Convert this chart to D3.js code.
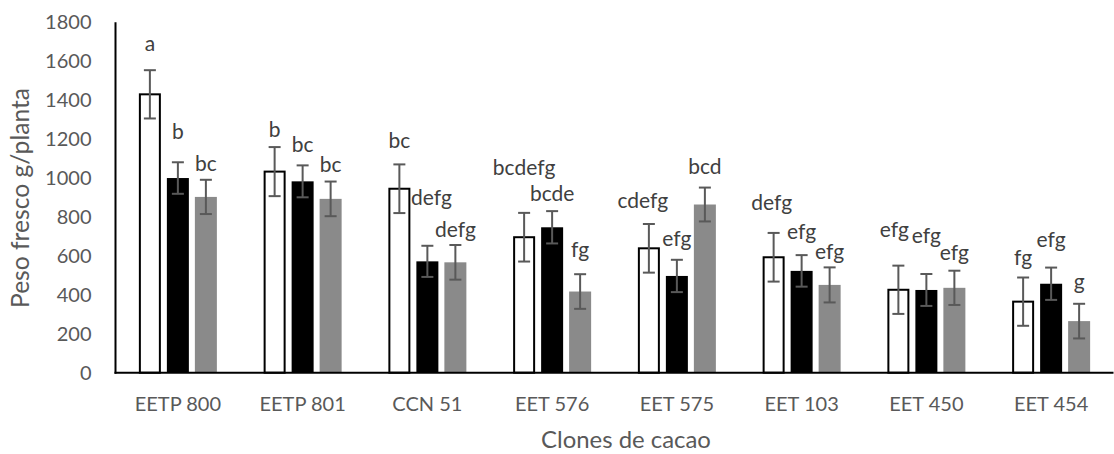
<!DOCTYPE html>
<html><head><meta charset="utf-8">
<script src="https://cdn.jsdelivr.net/npm/d3@7"></script>
<style>
html,body{margin:0;padding:0;background:#fff;}
svg{display:block;font-family:Lato, "Open Sans", sans-serif;}
</style></head>
<body>
<svg id="chart" width="1114" height="454"></svg>
<script>
// ---- data ----
const categories = ["EETP 800","EETP 801","CCN 51","EET 576","EET 575","EET 103","EET 450","EET 454"];
const seriesWhite = [1430, 1033, 945, 696, 639, 593, 426, 365];
const seriesBlack = [1000, 983, 572, 747, 497, 523, 425, 457];
const seriesGray  = [903, 893, 567, 417, 864, 451, 436, 265];
const errWhite = [124, 126, 125, 125, 125, 125, 124, 124];
const errBlack = [81, 82, 80, 83, 83, 81, 82, 83];
const errGray  = [88, 89, 89, 89, 87, 90, 88, 89];
const lettersWhite = ["a","b","bc","bcdefg","cdefg","defg","efg","fg"];
const lettersBlack = ["b","bc","defg","bcde","efg","efg","efg","efg"];
const lettersGray  = ["bc","bc","defg","fg","bcd","efg","efg","g"];
const yTicks = [0,200,400,600,800,1000,1200,1400,1600,1800];
const yTitle = "Peso fresco g/planta";
const xTitle = "Clones de cacao";

// ---- label layout tweaks (pixels above error-bar top, horizontal nudge) ----
const liftWhite = [19, 10, 16, 38, 16, 23, 29, 13];
const liftBlack = [23, 13, 41, 10, 14, 16, 31, 21];
const liftGray  = [9, 10, 8, 17, 14, 8, 11, 15];
const nudgeWhite = [0, 0, 0, 0, -6, -2, -4, 0];
const nudgeBlack = [0, 0, 4, 0, 0, 0, 0, 0];
const nudgeGray  = [0, 0, 0, 0, 0, 0, 0, 0];

const series = [
  {key:"w", values:seriesWhite, err:errWhite, letters:lettersWhite, lift:liftWhite, nudge:nudgeWhite, fill:"#ffffff", stroke:"#000000"},
  {key:"b", values:seriesBlack, err:errBlack, letters:lettersBlack, lift:liftBlack, nudge:nudgeBlack, fill:"#000000", stroke:"none"},
  {key:"g", values:seriesGray,  err:errGray,  letters:lettersGray,  lift:liftGray,  nudge:nudgeGray,  fill:"#8a8a8a", stroke:"none"}
];

const svg = d3.select("#chart");
const mLeft = 115.5, mRight = 1113.5, mTop = 22.3, mBottom = 372.7;

const x0 = d3.scaleBand().domain(categories).range([mLeft, mRight]).padding(0);
const innerW = 78;
const x1 = d3.scaleBand().domain(series.map(s=>s.key))
  .range([(x0.bandwidth()-innerW)/2, (x0.bandwidth()+innerW)/2])
  .paddingInner(6/28).paddingOuter(0);
const y = d3.scaleLinear().domain([0,1800]).range([mBottom, mTop]);

const textGray = "#595959";

// y ticks
const yAxis = d3.axisLeft(y).tickValues(yTicks).tickFormat(d3.format("d")).tickSize(0).tickPadding(24);
const gy = svg.append("g").attr("transform",`translate(${mLeft},0)`).call(yAxis);
gy.select(".domain").remove();
gy.selectAll("text").attr("fill",textGray).style("font-size","20px").style("font-family","Lato");

// x labels
const xAxis = d3.axisBottom(x0).tickSize(0).tickPadding(24);
const gx = svg.append("g").attr("transform",`translate(0,${mBottom})`).call(xAxis);
gx.select(".domain").remove();
gx.selectAll("text").attr("fill",textGray).style("font-size","20px").style("font-family","Lato");

// bars
const groups = svg.append("g").selectAll("g.grp").data(categories).join("g")
  .attr("transform", c=>`translate(${x0(c)},0)`);

series.forEach(s=>{
  groups.append("rect")
    .attr("x", (c,i)=> x1(s.key) + (s.stroke!=="none"?1:0))
    .attr("width", x1.bandwidth() - (s.stroke!=="none"?2:0))
    .attr("y", (c,i)=> y(s.values[i]))
    .attr("height", (c,i)=> y(0)-y(s.values[i]))
    .attr("fill", s.fill)
    .attr("stroke", s.stroke)
    .attr("stroke-width", 2);
});

// error bars
const capW = 12;
series.forEach(s=>{
  const eb = groups.append("g").attr("stroke","#595959").attr("stroke-width",2).attr("fill","none");
  eb.append("line")
    .attr("x1",(c,i)=>x1(s.key)+x1.bandwidth()/2).attr("x2",(c,i)=>x1(s.key)+x1.bandwidth()/2)
    .attr("y1",(c,i)=>y(s.values[i]+s.err[i])).attr("y2",(c,i)=>y(s.values[i]-s.err[i]));
  eb.append("line")
    .attr("x1",(c,i)=>x1(s.key)+x1.bandwidth()/2-capW/2).attr("x2",(c,i)=>x1(s.key)+x1.bandwidth()/2+capW/2)
    .attr("y1",(c,i)=>y(s.values[i]+s.err[i])).attr("y2",(c,i)=>y(s.values[i]+s.err[i]));
  eb.append("line")
    .attr("x1",(c,i)=>x1(s.key)+x1.bandwidth()/2-capW/2).attr("x2",(c,i)=>x1(s.key)+x1.bandwidth()/2+capW/2)
    .attr("y1",(c,i)=>y(s.values[i]-s.err[i])).attr("y2",(c,i)=>y(s.values[i]-s.err[i]));
});

// letters
series.forEach(s=>{
  groups.append("text")
    .attr("x",(c,i)=>x1(s.key)+x1.bandwidth()/2 + s.nudge[i])
    .attr("y",(c,i)=>y(s.values[i]+s.err[i]) - s.lift[i])
    .attr("text-anchor","middle")
    .attr("fill","#404040")
    .style("font-size","21px")
    .text((c,i)=>s.letters[i]);
});

// axis lines
svg.append("line").attr("x1",mLeft).attr("x2",mLeft).attr("y1",mTop).attr("y2",mBottom+1)
  .attr("stroke","#000").attr("stroke-width",2);
svg.append("line").attr("x1",mLeft-1).attr("x2",mRight).attr("y1",mBottom).attr("y2",mBottom)
  .attr("stroke","#000").attr("stroke-width",2);

// titles (font size fitted to the reference text length)
function fit(sel, target, base){
  sel.style("font-size", base+"px");
  const w = sel.node().getComputedTextLength();
  if (w > 0) sel.style("font-size", (base*target/w).toFixed(2)+"px");
}
const yt = svg.append("text").attr("transform",`translate(29,198) rotate(-90)`)
  .attr("text-anchor","middle").attr("fill",textGray).text(yTitle);
fit(yt, 220, 22);
const xt = svg.append("text").attr("x",626).attr("y",448)
  .attr("text-anchor","middle").attr("fill",textGray).text(xTitle);
fit(xt, 170, 22);
</script>
</body></html>
